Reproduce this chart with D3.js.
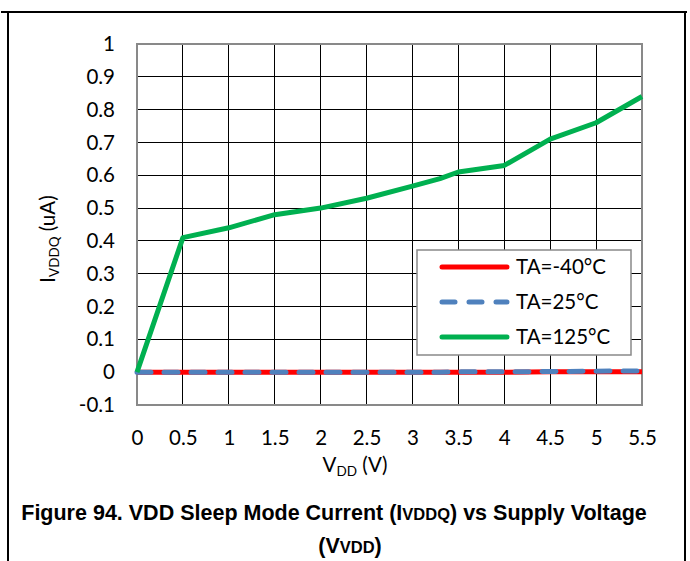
<!DOCTYPE html>
<html><head><meta charset="utf-8">
<script src="https://cdn.jsdelivr.net/npm/d3@7"></script>
<style>body{margin:0;background:#fff}svg{display:block}</style>
</head><body>
<script>
const vdd = [0, 0.5, 1, 1.5, 2, 2.5, 3, 3.3, 3.5, 4, 4.5, 5, 5.5];
const ta_m40 = [0, 0, 0, 0, 0, 0, 0, 0, 0, 0, 0.001, 0.001, 0.001];
const ta_25 = [0, 0, 0, 0, 0, 0, 0, 0, 0.001, 0.001, 0.002, 0.003, 0.004];
const ta_125 = [0, 0.41, 0.44, 0.48, 0.50, 0.53, 0.567, 0.59, 0.61, 0.63, 0.71, 0.76, 0.84];
const xTicks = [0, 0.5, 1, 1.5, 2, 2.5, 3, 3.5, 4, 4.5, 5, 5.5];
const yTicks = [-0.1, 0, 0.1, 0.2, 0.3, 0.4, 0.5, 0.6, 0.7, 0.8, 0.9, 1];
const xTickLabels = ["0", "0.5", "1", "1.5", "2", "2.5", "3", "3.5", "4", "4.5", "5", "5.5"];
const yTickLabels = ["-0.1", "0", "0.1", "0.2", "0.3", "0.4", "0.5", "0.6", "0.7", "0.8", "0.9", "1"];
const seriesNames = ["TA=-40°C", "TA=25°C", "TA=125°C"];

const W = 690, H = 561;
const svg = d3.select("body").append("svg").attr("width", W).attr("height", H);
const x = d3.scaleLinear().domain([0, 5.5]).range([137, 642]);
const y = d3.scaleLinear().domain([-0.1, 1]).range([405, 44]);
const tickFont = "Lato, 'Open Sans', sans-serif";
const FS = 20.5;

// page borders
svg.append("line").attr("x1", 1).attr("x2", 687).attr("y1", 12).attr("y2", 12).attr("stroke", "#000").attr("stroke-width", 2);
svg.append("line").attr("x1", 8).attr("x2", 8).attr("y1", 12).attr("y2", H).attr("stroke", "#000").attr("stroke-width", 2);
svg.append("line").attr("x1", 685).attr("x2", 685).attr("y1", 12).attr("y2", H).attr("stroke", "#000").attr("stroke-width", 2);

// gridlines
const grid = svg.append("g");
grid.selectAll(".gy").data(yTicks).join("line")
  .attr("x1", x(0)).attr("x2", x(5.5)).attr("y1", d => y(d)).attr("y2", d => y(d))
  .attr("stroke", "#000").attr("stroke-width", 1).attr("shape-rendering", "crispEdges");
grid.selectAll(".gx").data(xTicks).join("line")
  .attr("y1", y(-0.1)).attr("y2", y(1)).attr("x1", d => x(d)).attr("x2", d => x(d))
  .attr("stroke", "#000").attr("stroke-width", 1).attr("shape-rendering", "crispEdges");
svg.append("rect").attr("x", x(0)).attr("y", y(1)).attr("width", x(5.5) - x(0)).attr("height", y(-0.1) - y(1))
  .attr("fill", "none").attr("stroke", "#898989").attr("stroke-width", 2);

// axes tick labels via d3 axes
const yAxis = svg.append("g").attr("transform", `translate(${x(0)},0)`)
  .call(d3.axisLeft(y).tickValues(yTicks).tickSize(0).tickPadding(22).tickFormat((d, i) => yTickLabels[i]));
const xAxis = svg.append("g").attr("transform", `translate(0,${y(-0.1)})`)
  .call(d3.axisBottom(x).tickValues(xTicks).tickSize(0).tickPadding(25).tickFormat((d, i) => xTickLabels[i]));
[yAxis, xAxis].forEach(a => {
  a.select(".domain").remove();
  a.selectAll("text").attr("font-family", tickFont).attr("font-size", FS).attr("fill", "#000");
});

// axis titles
const xt = svg.append("text").attr("x", 355).attr("y", 472).attr("text-anchor", "middle")
  .attr("font-family", tickFont).attr("font-size", FS).attr("fill", "#000");
xt.append("tspan").text("V");
xt.append("tspan").attr("font-size", 13.5).attr("dy", 4).text("DD");
xt.append("tspan").attr("dy", -4).text(" (V)");

const yt = svg.append("text").attr("transform", "translate(55,239) rotate(-90)").attr("text-anchor", "middle")
  .attr("font-family", tickFont).attr("font-size", FS).attr("fill", "#000");
yt.append("tspan").text("I");
yt.append("tspan").attr("font-size", 13.5).attr("dy", 4).text("VDDQ");
yt.append("tspan").attr("dy", -4).text(" (uA)");

// series
const line = d3.line().x((d, i) => x(vdd[i])).y(d => y(d));
const styles = [
  {data: ta_m40, color: "#ff0000", dash: null},
  {data: ta_25, color: "#4f81bd", dash: "14,13"},
  {data: ta_125, color: "#00b050", dash: null}
];
styles.forEach(s => {
  svg.append("path").datum(s.data).attr("d", line).attr("fill", "none")
    .attr("stroke", s.color).attr("stroke-width", 5).attr("stroke-linejoin", "round")
    .attr("stroke-linecap", s.dash ? "round" : "butt")
    .attr("stroke-dasharray", s.dash);
});

// legend
const lg = svg.append("g");
lg.append("rect").attr("x", 417).attr("y", 250).attr("width", 214).attr("height", 105)
  .attr("fill", "#fff").attr("stroke", "#898989").attr("stroke-width", 1.5);
seriesNames.forEach((n, i) => {
  const yy = 267 + i * 35;
  const s = styles[i];
  lg.append("line").attr("x1", 442).attr("x2", 507).attr("y1", yy).attr("y2", yy)
    .attr("stroke", s.color).attr("stroke-width", 5).attr("stroke-linecap", "round")
    .attr("stroke-dasharray", s.dash ? "13,14" : null);
  lg.append("text").attr("x", 516).attr("y", yy).attr("dy", "0.35em")
    .attr("font-family", tickFont).attr("font-size", FS).attr("fill", "#000").text(n);
});

// caption
const capFont = "'Liberation Sans', Arial, sans-serif";
const c1 = svg.append("text").attr("x", 334).attr("y", 520).attr("text-anchor", "middle")
  .attr("font-family", capFont).attr("font-weight", "bold").attr("font-size", 21.5).attr("fill", "#000");
c1.append("tspan").text("Figure 94. VDD Sleep Mode Current (I");
c1.append("tspan").attr("font-size", 16.5).text("VDDQ");
c1.append("tspan").text(") vs Supply Voltage");
const c2 = svg.append("text").attr("x", 350).attr("y", 553).attr("text-anchor", "middle")
  .attr("font-family", capFont).attr("font-weight", "bold").attr("font-size", 21.5).attr("fill", "#000");
c2.append("tspan").text("(V");
c2.append("tspan").attr("font-size", 16.5).text("VDD");
c2.append("tspan").text(")");
</script>
</body></html>
